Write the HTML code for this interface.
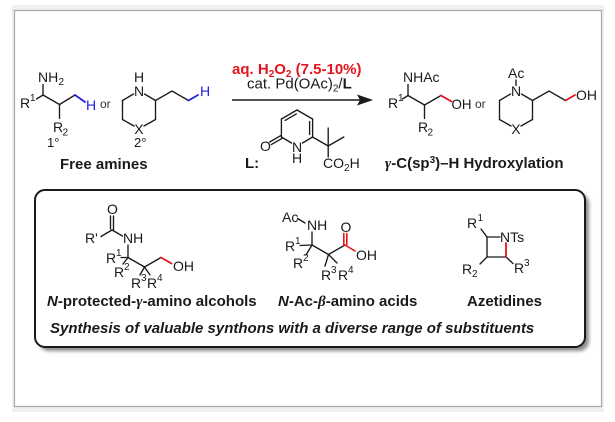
<!DOCTYPE html>
<html><head><meta charset="utf-8">
<style>
html,body{margin:0;padding:0;background:#fff;}
svg{display:block;}
text{font-family:"Liberation Sans",Arial,sans-serif;fill:#1a1a1a;font-size:14px;}
.b line,.b polyline{stroke:#1a1a1a;stroke-width:1.35;fill:none;stroke-linecap:round;}
.s{font-size:10px;}
.bold{font-weight:bold;font-size:15px;}
</style></head><body>
<svg width="615" height="422" viewBox="0 0 615 422" xmlns="http://www.w3.org/2000/svg">
<defs><filter id="sh" x="-5%" y="-10%" width="110%" height="120%"><feGaussianBlur stdDeviation="1.8"/></filter></defs>
<rect x="12" y="5" width="592" height="407" fill="#efefef"/>
<rect x="14.5" y="10.5" width="587" height="396" fill="#fff" stroke="#a8a8a8" stroke-width="1.2"/>

<!-- Reactant 1 (primary amine) -->
<g class="b">
<line x1="43" y1="84.5" x2="43" y2="95"/>
<line x1="36.5" y1="99" x2="43" y2="95"/>
<line x1="43" y1="95" x2="59.5" y2="104.5"/>
<line x1="59.5" y1="104.5" x2="59.5" y2="118.5"/>
<line x1="59.5" y1="104.5" x2="75" y2="95"/>
</g>
<line x1="75" y1="95" x2="85" y2="102" stroke="#2020e0" stroke-width="1.8" stroke-linecap="round"/>
<text x="38" y="82">NH</text><text class="s" x="58.5" y="85">2</text>
<text x="20" y="108">R</text><text class="s" x="30" y="101">1</text>
<text x="53" y="132">R</text><text class="s" x="62.5" y="135.5">2</text>
<text x="86" y="110" style="fill:#2020e0">H</text>
<text x="100" y="108" style="font-size:12px;fill:#333">or</text>
<text x="47" y="147" style="font-size:13px">1°</text>

<!-- Reactant 2 (piperidine) -->
<g class="b">
<line x1="133.5" y1="94" x2="122.5" y2="100.5"/>
<line x1="122.5" y1="100.5" x2="122.5" y2="119.5"/>
<line x1="122.5" y1="119.5" x2="134" y2="126"/>
<line x1="144" y1="126" x2="155.5" y2="119.5"/>
<line x1="155.5" y1="119.5" x2="155.5" y2="100.5"/>
<line x1="155.5" y1="100.5" x2="144.5" y2="94"/>
<polyline points="155.5,100.5 172,91 188.5,100.5"/>
</g>
<line x1="188.5" y1="100.5" x2="198" y2="95" stroke="#2020e0" stroke-width="1.8" stroke-linecap="round"/>
<text x="134" y="82">H</text>
<text x="134" y="96">N</text>
<text x="134.3" y="134">X</text>
<text x="200" y="96" style="fill:#2020e0">H</text>
<text x="134" y="147" style="font-size:13px">2°</text>

<text class="bold" x="60" y="169">Free amines</text>

<!-- Reagents -->
<text class="bold" x="232" y="74" style="fill:#e3141b">aq. H<tspan font-size="10" dy="3">2</tspan><tspan dy="-3">O</tspan><tspan font-size="10" dy="3">2</tspan><tspan dy="-3"> (7.5-10%)</tspan></text>
<text x="247" y="88.5" style="font-size:15px">cat. Pd(OAc)<tspan font-size="10" dy="3">2</tspan><tspan dy="-3">/</tspan><tspan font-weight="bold">L</tspan></text>
<line x1="232" y1="100" x2="362" y2="100" stroke="#1a1a1a" stroke-width="1.4"/>
<polygon points="373,100 357,94.5 360,100 357,105.5" fill="#1a1a1a"/>

<!-- Ligand L -->
<g class="b">
<line x1="281.4" y1="119" x2="297" y2="110"/>
<line x1="297" y1="110" x2="312.6" y2="119"/>
<line x1="312.6" y1="119" x2="312.6" y2="137"/>
<line x1="312.6" y1="137" x2="302.5" y2="143"/>
<line x1="291.5" y1="143" x2="281.4" y2="137"/>
<line x1="281.4" y1="137" x2="281.4" y2="119"/>
<line x1="285.1" y1="120.4" x2="296.3" y2="113.9"/>
<line x1="309.6" y1="121.5" x2="309.6" y2="134.5"/>
<line x1="282.2" y1="138.3" x2="271.3" y2="144.6"/>
<line x1="280.6" y1="135.7" x2="269.7" y2="142"/>
<line x1="312.6" y1="137" x2="328.2" y2="146"/>
<line x1="328.2" y1="146" x2="328.2" y2="128"/>
<line x1="328.2" y1="146" x2="343.8" y2="137"/>
<line x1="328.2" y1="146" x2="328.2" y2="157"/>
</g>
<text x="260" y="151">O</text>
<text x="292" y="152">N</text>
<text x="292" y="163">H</text>
<text x="323" y="168">CO<tspan font-size="10" dy="3">2</tspan><tspan dy="-3">H</tspan></text>
<text class="bold" x="245" y="168">L:</text>

<!-- Product 1 -->
<g class="b">
<line x1="408" y1="84.5" x2="408" y2="95.5"/>
<line x1="402.5" y1="99" x2="408" y2="95.5"/>
<line x1="408" y1="95.5" x2="424.5" y2="105"/>
<line x1="424.5" y1="105" x2="424.5" y2="118.5"/>
<line x1="424.5" y1="105" x2="441" y2="95.5"/>
</g>
<line x1="441" y1="95.5" x2="451.5" y2="101.5" stroke="#e3141b" stroke-width="1.8" stroke-linecap="round"/>
<text x="403" y="82">NHAc</text>
<text x="388" y="108">R</text><text class="s" x="398" y="101">1</text>
<text x="418" y="132">R</text><text class="s" x="427.5" y="135.5">2</text>
<text x="451.5" y="109" textLength="20" lengthAdjust="spacingAndGlyphs">OH</text>
<text x="475" y="108" style="font-size:12px;fill:#333">or</text>

<!-- Product 2 -->
<g class="b">
<line x1="516" y1="80" x2="516" y2="85.5"/>
<line x1="510.5" y1="94" x2="499.5" y2="100.5"/>
<line x1="499.5" y1="100.5" x2="499.5" y2="119.5"/>
<line x1="499.5" y1="119.5" x2="511" y2="126"/>
<line x1="521" y1="126" x2="532.5" y2="119.5"/>
<line x1="532.5" y1="119.5" x2="532.5" y2="100.5"/>
<line x1="532.5" y1="100.5" x2="521.5" y2="94"/>
<polyline points="532.5,100.5 549,91 565.5,100.5"/>
</g>
<line x1="565.5" y1="100.5" x2="575" y2="95" stroke="#e3141b" stroke-width="1.8" stroke-linecap="round"/>
<text x="508" y="78">Ac</text>
<text x="511" y="96">N</text>
<text x="511.3" y="134">X</text>
<text x="576" y="100">OH</text>

<text class="bold" x="385" y="168"><tspan font-family="Liberation Serif" font-style="italic">γ</tspan>-C(sp<tspan font-size="10" dy="-5">3</tspan><tspan dy="5">)–H Hydroxylation</tspan></text>

<!-- Box -->
<rect x="39" y="194" width="550" height="157" rx="10" fill="#8a8a8a" filter="url(#sh)"/>
<rect x="35" y="190" width="550" height="157" rx="10" fill="#fff" stroke="#1a1a1a" stroke-width="2"/>

<!-- Struct 1 -->
<g class="b">
<line x1="110.5" y1="216" x2="110.5" y2="229"/>
<line x1="113.5" y1="216" x2="113.5" y2="230"/>
<line x1="112" y1="230" x2="101" y2="236.5"/>
<line x1="112" y1="230" x2="122.5" y2="236"/>
<line x1="128" y1="245" x2="128" y2="257.5"/>
<line x1="121" y1="257.5" x2="128" y2="257.5"/>
<line x1="128" y1="257.5" x2="123" y2="264"/>
<line x1="128" y1="257.5" x2="144.5" y2="267"/>
<line x1="144.5" y1="267" x2="140" y2="275"/>
<line x1="144.5" y1="267" x2="150" y2="275"/>
<line x1="144.5" y1="267" x2="161" y2="257.5"/>
</g>
<line x1="161" y1="257.5" x2="171.5" y2="263.5" stroke="#e3141b" stroke-width="1.8" stroke-linecap="round"/>
<text x="107" y="214">O</text>
<text x="85" y="243">R'</text>
<text x="123" y="243">NH</text>
<text x="106" y="263">R</text><text class="s" x="116" y="256">1</text>
<text x="114" y="277">R</text><text class="s" x="124" y="270">2</text>
<text x="131" y="288">R</text><text class="s" x="141" y="281">3</text>
<text x="147" y="288">R</text><text class="s" x="157" y="281">4</text>
<text x="173" y="271">OH</text>

<!-- Struct 2 -->
<g class="b">
<line x1="297.5" y1="218.5" x2="305" y2="223"/>
<line x1="312" y1="232" x2="312" y2="245"/>
<line x1="300" y1="245.5" x2="312" y2="245"/>
<line x1="312" y1="245" x2="306" y2="255"/>
<line x1="312" y1="245" x2="328.5" y2="254.5"/>
<line x1="328.5" y1="254.5" x2="325" y2="266"/>
<line x1="328.5" y1="254.5" x2="337" y2="263"/>
<line x1="328.5" y1="254.5" x2="345" y2="245"/>
</g>
<g stroke="#e3141b" stroke-width="1.6" stroke-linecap="round">
<line x1="343.8" y1="233.5" x2="343.8" y2="245.5"/>
<line x1="346.8" y1="233.5" x2="346.8" y2="244.5"/>
<line x1="345" y1="245" x2="355" y2="251"/>
</g>
<text x="282" y="222">Ac</text>
<text x="307" y="230">NH</text>
<text x="285" y="251">R</text><text class="s" x="295" y="244">1</text>
<text x="293" y="268">R</text><text class="s" x="303" y="261">2</text>
<text x="321" y="280">R</text><text class="s" x="331" y="273">3</text>
<text x="338" y="280">R</text><text class="s" x="348" y="273">4</text>
<text x="340.5" y="232">O</text>
<text x="356" y="260">OH</text>

<!-- Struct 3 -->
<g class="b">
<line x1="481" y1="229" x2="487" y2="237"/>
<line x1="487" y1="237" x2="500" y2="237"/>
<line x1="487" y1="237" x2="487" y2="257"/>
<line x1="487" y1="257" x2="506" y2="257"/>
<line x1="506" y1="257" x2="513" y2="263.5"/>
<line x1="487" y1="257" x2="480" y2="264"/>
</g>
<line x1="506" y1="243" x2="506" y2="257" stroke="#e3141b" stroke-width="1.8" stroke-linecap="round"/>
<text x="467" y="228">R</text><text class="s" x="477.5" y="221">1</text>
<text x="500" y="242">NTs</text>
<text x="514" y="273">R</text><text class="s" x="524" y="266">3</text>
<text x="462" y="274">R</text><text class="s" x="472" y="277">2</text>

<!-- Labels -->
<text class="bold" x="47" y="306"><tspan font-style="italic">N</tspan>-protected-<tspan font-family="Liberation Serif" font-style="italic">γ</tspan>-amino alcohols</text>
<text class="bold" x="278" y="306"><tspan font-style="italic">N</tspan>-Ac-<tspan font-family="Liberation Serif" font-style="italic">β</tspan>-amino acids</text>
<text class="bold" x="467" y="306">Azetidines</text>
<text class="bold" x="50" y="333" font-style="italic">Synthesis of valuable synthons with a diverse range of substituents</text>
</svg>
</body></html>
